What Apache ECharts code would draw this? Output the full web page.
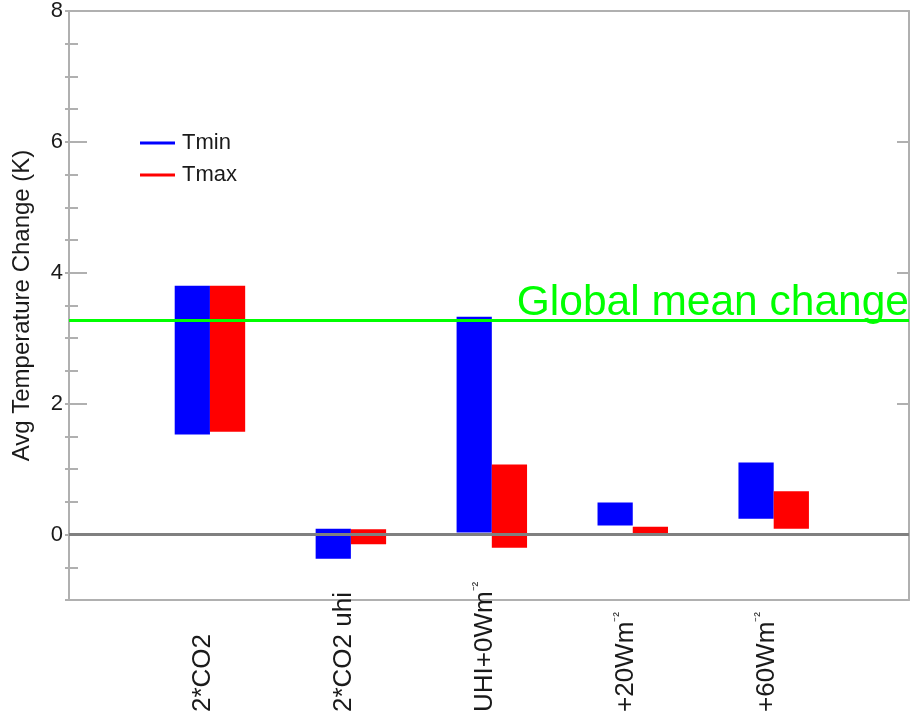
<!DOCTYPE html>
<html>
<head>
<meta charset="utf-8">
<script src="https://cdn.jsdelivr.net/npm/echarts@6/dist/echarts.min.js"></script>
<style>
html,body{margin:0;padding:0;background:#fff;}
#chart{width:910px;height:716px;}
</style>
</head>
<body>
<div id="chart"></div>
<script>
const categories = ['2*CO2', '2*CO2 uhi', 'UHI+0Wm⁻²', '+20Wm⁻²', '+60Wm⁻²'];
const tminLow  = [1.53, -0.37, 0.03, 0.14, 0.24];
const tminHigh = [3.80,  0.09, 3.33, 0.49, 1.10];
const tmaxLow  = [1.57, -0.15, -0.20, 0.01, 0.09];
const tmaxHigh = [3.80,  0.08, 1.07, 0.12, 0.66];
const globalMean = 3.27;
const globalLabel = 'Global mean change';
const yTicks = [0, 2, 4, 6, 8];
const yMinorTicks = [-1, -0.5, 0, 0.5, 1, 1.5, 2, 2.5, 3, 3.5, 4, 4.5, 5, 5.5, 6, 6.5, 7, 7.5, 8];
const seriesNames = ['Tmin', 'Tmax'];

const FONT = 'Liberation Sans, Arial, sans-serif';
const TXT = '#1a1a1a';
const AX = '#b0b0b0';
const xPos = categories.map((c, i) => i + 1);

// split trailing superscript (⁻²) into a small rich-text token
function catLabel(v) {
  const s = categories[Math.round(v) - 1];
  if (!s) return '';
  const m = s.match(/^(.*?)([⁻²]+)$/);
  if (m) return '{n|' + m[1] + '}{s|' + m[2] + '}';
  return '{n|' + s + '}';
}

function makeRender(side) {
  return function (params, api) {
    const x = api.value(0), lo = api.value(1), hi = api.value(2);
    const w = api.size([1, 0])[0] * 0.25;
    const pLo = api.coord([x, lo]);
    const pHi = api.coord([x, hi]);
    return {
      type: 'rect',
      shape: { x: pLo[0] + side * w, y: pHi[1], width: w, height: pLo[1] - pHi[1] },
      style: api.style()
    };
  };
}

const yBase = { type: 'value', min: -1, max: 8, interval: 0.5, splitLine: { show: false } };

const option = {
  animation: false,
  backgroundColor: '#fff',
  grid: { left: 69, right: 1, top: 11, bottom: 116 },
  legend: {
    data: seriesNames,
    orient: 'vertical',
    left: 135, top: 127,
    icon: 'rect', itemWidth: 35, itemHeight: 3, itemGap: 10,
    textStyle: { fontFamily: FONT, fontSize: 22, color: TXT, padding: [0, 0, 0, 2] }
  },
  xAxis: [
    {
      type: 'value', min: 0, max: 5.96, interval: 1,
      splitLine: { show: false },
      axisLine: { show: true, onZero: false, lineStyle: { color: AX, width: 2 } },
      axisTick: { show: false },
      axisLabel: {
        customValues: xPos,
        rotate: 90, align: 'left', verticalAlign: 'middle', margin: 112,
        padding: [0, 0, 14, 0],
        formatter: catLabel,
        rich: {
          n: { fontFamily: FONT, fontSize: 26, color: TXT, lineHeight: 28 },
          s: { fontFamily: FONT, fontSize: 14, color: TXT, lineHeight: 23, verticalAlign: 'top' }
        }
      }
    },
    {
      type: 'value', position: 'top', min: 0, max: 5.96, interval: 1,
      splitLine: { show: false },
      axisLine: { show: true, onZero: false, lineStyle: { color: AX, width: 2 } },
      axisTick: { show: false }, axisLabel: { show: false }
    }
  ],
  yAxis: [
    Object.assign({}, yBase, {
      position: 'left',
      axisLine: { show: true, onZero: false, lineStyle: { color: AX, width: 2 } },
      axisTick: { show: true, inside: true, length: 18, customValues: yTicks, lineStyle: { color: AX, width: 2 } },
      axisLabel: { customValues: yTicks, fontFamily: FONT, fontSize: 22, color: TXT, margin: 6 },
      name: 'Avg Temperature Change (K)', nameLocation: 'middle', nameGap: 35,
      nameTextStyle: { fontFamily: FONT, fontSize: 24, color: TXT }
    }),
    Object.assign({}, yBase, {
      position: 'left',
      axisLine: { show: false },
      axisTick: { show: true, inside: true, length: 9, customValues: yMinorTicks, lineStyle: { color: AX, width: 2 } },
      axisLabel: { show: false }
    }),
    Object.assign({}, yBase, {
      position: 'right',
      axisLine: { show: true, onZero: false, lineStyle: { color: AX, width: 2 } },
      axisTick: { show: true, inside: true, length: 12, customValues: yTicks, lineStyle: { color: AX, width: 2 } },
      axisLabel: { show: false }
    }),
    Object.assign({}, yBase, {
      position: 'right',
      axisLine: { show: false },
      axisTick: { show: true, inside: true, length: 4, customValues: yMinorTicks, lineStyle: { color: AX, width: 2 } },
      axisLabel: { show: false }
    })
  ],
  series: [
    {
      name: seriesNames[0], type: 'custom',
      renderItem: makeRender(-1),
      itemStyle: { color: '#0000ff' },
      encode: { x: 0, y: [1, 2] },
      data: xPos.map((x, i) => [x, tminLow[i], tminHigh[i]]),
      z: 3
    },
    {
      name: seriesNames[1], type: 'custom',
      renderItem: makeRender(0),
      itemStyle: { color: '#ff0000' },
      encode: { x: 0, y: [1, 2] },
      data: xPos.map((x, i) => [x, tmaxLow[i], tmaxHigh[i]]),
      z: 3,
      markLine: {
        silent: true, symbol: 'none', animation: false,
        data: [
          { yAxis: 0, lineStyle: { color: '#808080', width: 3, type: 'solid' }, label: { show: false } },
          {
            yAxis: globalMean,
            lineStyle: { color: '#00ff00', width: 3, type: 'solid' },
            label: {
              show: true, position: 'insideEndTop', formatter: globalLabel,
              fontFamily: FONT, fontSize: 42.5, color: '#00ff00', distance: [0, -4]
            }
          }
        ]
      }
    }
  ]
};

const chart = echarts.init(document.getElementById('chart'), null, { renderer: 'canvas' });
chart.setOption(option);
</script>
</body>
</html>
